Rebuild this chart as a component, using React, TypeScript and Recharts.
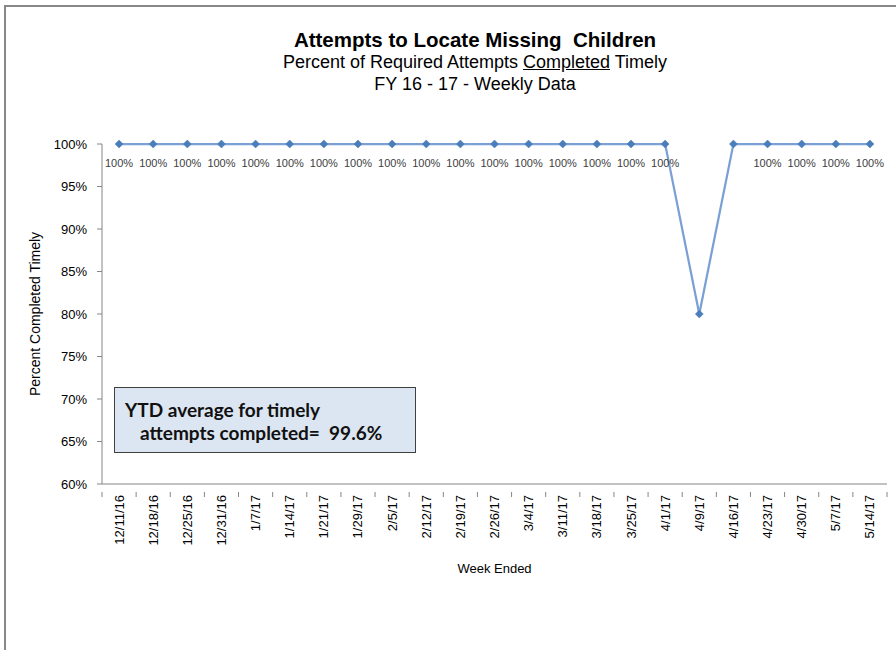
import React from 'react';
import { LineChart, Line, XAxis, YAxis, LabelList } from 'recharts';

const weeks = [
  '12/11/16', '12/18/16', '12/25/16', '12/31/16', '1/7/17', '1/14/17', '1/21/17', '1/29/17',
  '2/5/17', '2/12/17', '2/19/17', '2/26/17', '3/4/17', '3/11/17', '3/18/17', '3/25/17',
  '4/1/17', '4/9/17', '4/16/17', '4/23/17', '4/30/17', '5/7/17', '5/14/17',
];
const percentTimely = [
  100, 100, 100, 100, 100, 100, 100, 100, 100, 100, 100, 100, 100, 100, 100, 100,
  100, 80, 100, 100, 100, 100, 100,
];
const weeksWithoutLabel = ['4/9/17', '4/16/17'];
const yTicks = [60, 65, 70, 75, 80, 85, 90, 95, 100];

const titleLine1 = 'Attempts to Locate Missing  Children';
const subtitleBefore = 'Percent of Required Attempts ';
const subtitleUnderlined = 'Completed';
const subtitleAfter = ' Timely';
const titleLine3 = 'FY 16 - 17 - Weekly Data';
const ytdLine1 = 'YTD average for timely';
const ytdLine2 = 'attempts completed=  99.6%';

const data = weeks.map((w, i) => ({ week: w, pct: percentTimely[i] }));

const W = 896;
const H = 650;
const PLOT_LEFT = 102;
const PLOT_RIGHT = 887;
const PLOT_TOP = 144;
const PLOT_BOTTOM = 484;
const HALF_STEP = (PLOT_RIGHT - PLOT_LEFT) / weeks.length / 2;
const AXIS_COLOR = '#868686';
const TICK_FONT = '"Liberation Sans", Arial, sans-serif';

const XTick = (props: any) => {
  const { x, y, payload, index } = props;
  const isLast = index === weeks.length - 1;
  return (
    <g>
      <line x1={x - HALF_STEP} x2={x - HALF_STEP} y1={y} y2={y + 5} stroke={AXIS_COLOR} strokeWidth={1} />
      {isLast && (
        <line x1={x + HALF_STEP} x2={x + HALF_STEP} y1={y} y2={y + 5} stroke={AXIS_COLOR} strokeWidth={1} />
      )}
      <text
        x={x}
        y={y + 3}
        transform={`rotate(-90, ${x}, ${y + 3})`}
        textAnchor="end"
        dominantBaseline="central"
        fontSize={13}
        fontFamily={TICK_FONT}
        fill="#000"
      >
        {payload.value}
      </text>
    </g>
  );
};

const Diamond = (props: any) => {
  const { cx, cy } = props;
  if (cx == null || cy == null) return null;
  const r = 4;
  return (
    <path
      d={`M${cx},${cy - r} L${cx + r},${cy} L${cx},${cy + r} L${cx - r},${cy} Z`}
      fill="#4A7EBB"
      stroke="#4A7EBB"
      strokeWidth={0.5}
    />
  );
};

const DataLabel = (props: any) => {
  const { x, y, value, index } = props;
  if (weeksWithoutLabel.includes(weeks[index])) return null;
  return (
    <text
      x={x}
      y={y + 19}
      textAnchor="middle"
      dominantBaseline="central"
      fontSize={11}
      fontFamily={TICK_FONT}
      fill="#404040"
    >
      {`${value}%`}
    </text>
  );
};

export default function App() {
  return (
    <div style={{ position: 'absolute', left: 0, top: 0, width: W, height: H, overflow: 'hidden', background: '#fff' }}>
      <div
        style={{
          position: 'absolute',
          left: 4,
          top: 5,
          width: 1000,
          height: 1000,
          border: '2px solid #888',
          boxSizing: 'border-box',
        }}
      />
      <div style={{ position: 'absolute', left: 0, top: 0 }}>
        <LineChart
          width={W}
          height={H}
          data={data}
          margin={{ top: PLOT_TOP, right: W - PLOT_RIGHT, bottom: 0, left: 0 }}
        >
          <XAxis
            dataKey="week"
            scale="band"
            height={H - PLOT_BOTTOM}
            interval={0}
            tickLine={false}
            axisLine={{ stroke: AXIS_COLOR }}
            tick={<XTick />}
            label={{
              value: 'Week Ended',
              position: 'insideBottom',
              offset: 77,
              fontSize: 13,
              fontFamily: TICK_FONT,
              fill: '#000',
            }}
          />
          <YAxis
            width={PLOT_LEFT}
            domain={[60, 100]}
            ticks={yTicks}
            interval={0}
            tickFormatter={(v: number) => `${v}%`}
            tickSize={5}
            tickMargin={10}
            tickLine={{ stroke: AXIS_COLOR }}
            axisLine={{ stroke: AXIS_COLOR }}
            tick={{ fontSize: 13, fontFamily: TICK_FONT, fill: '#000' }}
            label={{
              value: 'Percent Completed Timely',
              angle: -90,
              position: 'insideLeft',
              offset: 35,
              style: { textAnchor: 'middle' },
              fontSize: 14,
              fontFamily: TICK_FONT,
              fill: '#000',
            }}
          />
          <Line
            type="linear"
            dataKey="pct"
            stroke="#7BA0D6"
            strokeWidth={2.25}
            dot={<Diamond />}
            activeDot={false}
            isAnimationActive={false}
          >
            <LabelList dataKey="pct" content={<DataLabel />} />
          </Line>
        </LineChart>
      </div>
      <div
        style={{
          position: 'absolute',
          left: 0,
          top: 29,
          width: 950,
          textAlign: 'center',
          fontFamily: TICK_FONT,
          color: '#000',
          lineHeight: '22px',
          whiteSpace: 'pre',
        }}
      >
        <div style={{ fontSize: 20.5, fontWeight: 'bold' }}>{titleLine1}</div>
        <div style={{ fontSize: 18 }}>
          {subtitleBefore}
          <span style={{ textDecoration: 'underline' }}>{subtitleUnderlined}</span>
          {subtitleAfter}
        </div>
        <div style={{ fontSize: 18 }}>{titleLine3}</div>
      </div>
      <div
        style={{
          position: 'absolute',
          left: 114,
          top: 387,
          width: 302,
          height: 66,
          boxSizing: 'border-box',
          border: '1.5px solid #404040',
          background: '#DCE6F2',
          fontFamily: 'Lato, "Open Sans", sans-serif',
          fontWeight: 'bold',
          fontSize: 19,
          color: '#111',
          lineHeight: '23px',
          paddingTop: 10,
          paddingLeft: 10,
          whiteSpace: 'pre',
        }}
      >
        <div>{ytdLine1}</div>
        <div style={{ paddingLeft: 15 }}>{ytdLine2}</div>
      </div>
    </div>
  );
}
